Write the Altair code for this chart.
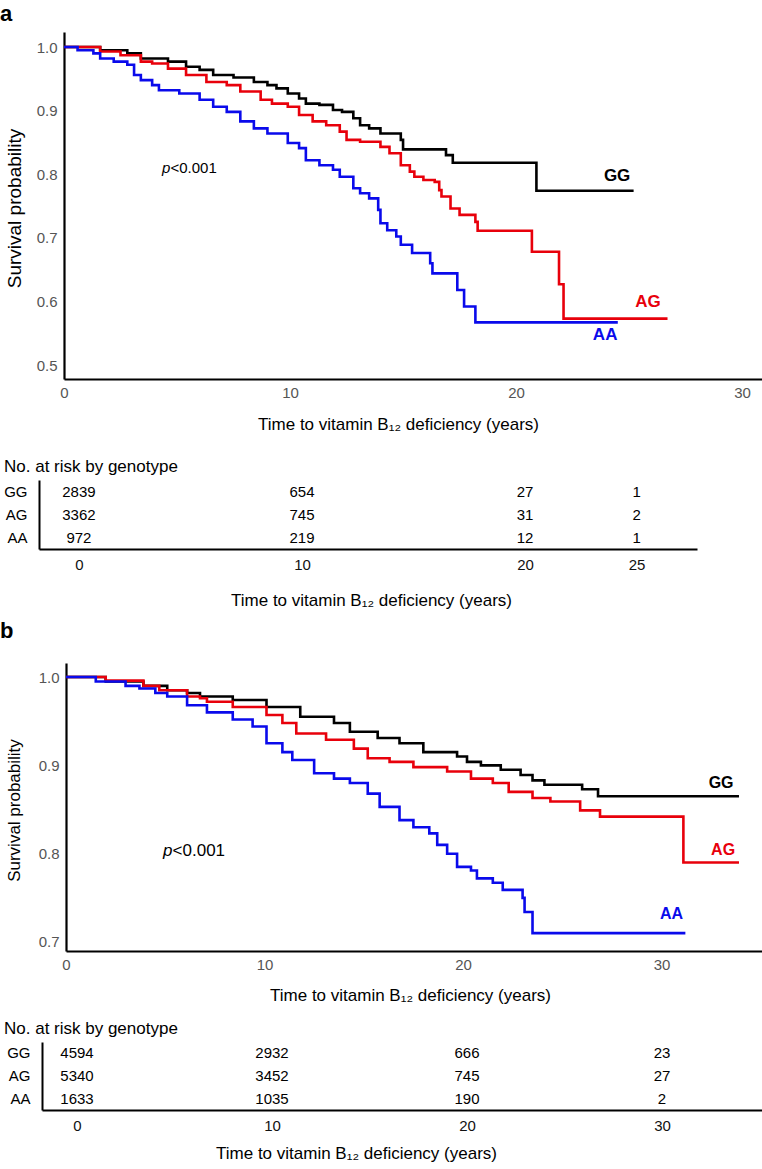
import altair as alt
import pandas as pd

FONT = "Liberation Sans"
GENOTYPES = ["GG", "AG", "AA"]
LINE_COLORS = ["#000000", "#e8000b", "#0a0aeb"]
X_TITLE = "Time to vitamin B₁₂ deficiency (years)"
PAGE_W = 762

# ---- Panel a: Kaplan-Meier estimates (years, survival probability) ----
a_gg_time = [0, 1.6, 2.8, 3.4, 4.6, 5.4, 6.0, 6.6, 7.5, 8.4, 9.0, 9.4, 9.9, 10.4, 10.7,
             11.3, 11.9, 12.3, 12.8, 13.1, 13.5, 14.0, 14.9, 15.0, 16.9, 17.2, 20.9, 25.2]
a_gg_surv = [1.000, 0.995, 0.990, 0.982, 0.977, 0.969, 0.964, 0.956, 0.952, 0.945, 0.940,
             0.935, 0.927, 0.919, 0.911, 0.909, 0.901, 0.898, 0.888, 0.877, 0.872, 0.864,
             0.854, 0.839, 0.830, 0.818, 0.774, 0.774]
a_ag_time = [0, 1.6, 2.5, 3.4, 3.9, 4.6, 5.4, 6.3, 7.2, 7.8, 8.7, 9.2, 9.9, 10.4, 11.0,
             11.6, 12.2, 12.5, 13.1, 14.0, 14.4, 14.9, 15.3, 15.5, 15.9, 16.4, 16.6, 16.7,
             17.1, 17.5, 18.2, 18.3, 20.7, 21.9, 22.1, 26.7]
a_ag_surv = [1.000, 0.993, 0.987, 0.977, 0.974, 0.966, 0.956, 0.945, 0.940, 0.930, 0.917,
             0.911, 0.906, 0.893, 0.883, 0.877, 0.867, 0.854, 0.851, 0.843, 0.833, 0.814,
             0.804, 0.796, 0.791, 0.788, 0.775, 0.765, 0.746, 0.736, 0.725, 0.711, 0.678,
             0.627, 0.573, 0.573]
a_aa_time = [0, 0.6, 1.3, 1.6, 2.2, 2.8, 3.1, 3.4, 3.9, 4.2, 5.1, 6.0, 6.6, 7.2, 7.8, 8.4,
             9.0, 9.9, 10.4, 10.7, 11.3, 11.9, 12.2, 12.8, 13.1, 13.5, 13.9, 14.0, 14.3,
             14.7, 14.9, 15.4, 16.2, 16.3, 17.4, 17.7, 18.2, 24.5]
a_aa_surv = [1.000, 0.995, 0.990, 0.982, 0.977, 0.972, 0.956, 0.948, 0.940, 0.932, 0.927,
             0.917, 0.906, 0.898, 0.883, 0.872, 0.864, 0.849, 0.841, 0.822, 0.814, 0.807,
             0.796, 0.778, 0.770, 0.762, 0.744, 0.723, 0.712, 0.702, 0.689, 0.676, 0.660,
             0.644, 0.618, 0.592, 0.567, 0.567]
a_label_time = [24.47, 25.84, 23.94]
a_label_surv = [0.797, 0.599, 0.547]
a_p_time, a_p_surv = 4.34, 0.810

# ---- Panel b ----
b_gg_time = [0, 2.0, 3.9, 5.1, 6.1, 6.75, 8.4, 10.1, 11.8, 13.5, 14.3, 15.7, 16.8, 18.0,
             19.7, 20.2, 20.9, 21.9, 22.9, 23.5, 24.1, 26.0, 26.8, 33.9]
b_gg_surv = [1.000, 0.995, 0.990, 0.985, 0.982, 0.978, 0.974, 0.966, 0.955, 0.948, 0.938,
             0.931, 0.925, 0.915, 0.910, 0.904, 0.900, 0.895, 0.889, 0.883, 0.878, 0.873,
             0.865, 0.865]
b_ag_time = [0, 2.0, 3.9, 4.7, 6.1, 6.75, 7.1, 8.4, 10.1, 10.9, 11.6, 13.1, 14.5, 15.2,
             16.3, 17.5, 19.2, 20.4, 21.5, 22.3, 23.5, 24.4, 25.9, 26.9, 31.1, 33.9]
b_ag_surv = [1.000, 0.996, 0.990, 0.985, 0.978, 0.976, 0.972, 0.966, 0.957, 0.948, 0.936,
             0.929, 0.919, 0.908, 0.904, 0.898, 0.893, 0.885, 0.880, 0.870, 0.863, 0.859,
             0.849, 0.842, 0.790, 0.790]
b_aa_time = [0, 1.5, 3.0, 3.7, 4.5, 5.1, 6.1, 7.1, 8.4, 9.4, 10.1, 10.9, 11.4, 12.5, 13.5,
             14.3, 15.2, 15.8, 16.8, 17.5, 18.3, 18.7, 19.2, 19.7, 20.4, 20.7, 21.5, 22.0,
             23.0, 23.1, 23.5, 31.2]
b_aa_surv = [1.000, 0.995, 0.990, 0.987, 0.982, 0.978, 0.968, 0.960, 0.952, 0.944, 0.925,
             0.915, 0.906, 0.891, 0.885, 0.880, 0.868, 0.853, 0.838, 0.830, 0.823, 0.810,
             0.800, 0.785, 0.781, 0.772, 0.767, 0.759, 0.750, 0.734, 0.710, 0.710]
b_label_time = [33.0, 33.1, 30.5]
b_label_surv = [0.880, 0.804, 0.732]
b_p_time, b_p_surv = 4.89, 0.803

# ---- Numbers at risk ----
a_risk_time = [0, 10, 20, 25]
a_risk_gg = [2839, 654, 27, 1]
a_risk_ag = [3362, 745, 31, 2]
a_risk_aa = [972, 219, 12, 1]
b_risk_time = [0, 10, 20, 30]
b_risk_gg = [4594, 2932, 666, 23]
b_risk_ag = [5340, 3452, 745, 27]
b_risk_aa = [1633, 1035, 190, 2]

color_scale = alt.Scale(domain=GENOTYPES, range=LINE_COLORS)


def curves_frame(series):
    rows = []
    for g, (ts, ss) in zip(GENOTYPES, series):
        for t, s in zip(ts, ss):
            rows.append({"genotype": g, "t": t, "S": s})
    return pd.DataFrame(rows)


def km_panel(curves, lab_t, lab_s, p_t, p_s, letter, letter_y, x_dom, x_rng, y_dom, y_rng,
             height, y_title_size, y_title_y, x_title_x, x_title_dy, p_size, lab_size):
    axis_y_pos = y_rng[0]
    x = alt.X("t:Q",
              scale=alt.Scale(domain=x_dom, range=x_rng, nice=False, zero=False),
              axis=alt.Axis(orient="bottom", offset=axis_y_pos - height,
                            values=[0, 10, 20, 30], format="d", ticks=False, grid=False,
                            domainColor="black", domainWidth=2.2, labelFlush=False,
                            labelColor="#555555", labelFontSize=15, labelPadding=6,
                            title=X_TITLE, titleFontSize=17, titleFontWeight="normal",
                            titleColor="black", titleX=x_title_x, titleY=x_title_dy,
                            titleAlign="center", titleBaseline="middle"))
    y = alt.Y("S:Q",
              scale=alt.Scale(domain=y_dom, range=y_rng, nice=False, zero=False),
              axis=alt.Axis(orient="left", offset=-x_rng[0], format=".1f",
                            values=[round(0.5 + 0.1 * i, 1) for i in range(6)],
                            ticks=False, grid=False, domainColor="black", domainWidth=2.2,
                            labelColor="#555555", labelFontSize=15, labelPadding=7,
                            title="Survival probability", titleFontSize=y_title_size,
                            titleFontWeight="normal", titleColor="black",
                            titleX=14 - x_rng[0], titleY=y_title_y, titleAngle=270,
                            titleAlign="center", titleBaseline="middle"))
    c = alt.Color("genotype:N", scale=color_scale, legend=None)

    lines = alt.Chart(curves).mark_line(interpolate="step-after", strokeWidth=2.6).encode(x, y, c)
    labels = alt.Chart(pd.DataFrame({"genotype": GENOTYPES, "t": lab_t, "S": lab_s})).mark_text(
        fontWeight="bold", fontSize=lab_size, align="center", baseline="middle").encode(
        x, y, c, text="genotype:N")
    pdf = pd.DataFrame({"t": [p_t], "S": [p_s]})
    p_letter = alt.Chart(pdf).mark_text(text="p", fontStyle="italic", fontSize=p_size,
                                        align="left", baseline="middle").encode(x, y)
    p_rest = alt.Chart(pdf).mark_text(text="<0.001", fontSize=p_size, align="left",
                                      baseline="middle", dx=p_size * 0.56).encode(x, y)
    tag = alt.Chart(pd.DataFrame({"tag": [letter]})).mark_text(
        fontSize=22, fontWeight="bold", align="left", baseline="middle").encode(
        x=alt.value(0), y=alt.value(letter_y), text="tag:N")
    return alt.layer(lines, labels, p_letter, p_rest, tag).properties(width=PAGE_W, height=height)


def risk_table(times, gg, ag, aa, x_dom, x_rng, ticks, row_rng, height, header_y,
               title_x, title_dy):
    rows = []
    for g, counts in zip(GENOTYPES, [gg, ag, aa]):
        for t, n in zip(times, counts):
            rows.append({"genotype": g, "t": t, "n": n})
    df = pd.DataFrame(rows)
    line_y = row_rng[1]
    x = alt.X("t:Q",
              scale=alt.Scale(domain=x_dom, range=x_rng, nice=False, zero=False),
              axis=alt.Axis(orient="bottom", offset=line_y - height, values=ticks,
                            format="d", ticks=False, grid=False, domainColor="black",
                            domainWidth=2, labelFlush=False, labelColor="#111111",
                            labelFontSize=15, labelPadding=8, title=X_TITLE,
                            titleFontSize=17, titleFontWeight="normal", titleColor="black",
                            titleX=title_x, titleY=title_dy, titleAlign="center",
                            titleBaseline="middle"))
    y = alt.Y("genotype:N",
              scale=alt.Scale(type="band", domain=GENOTYPES, range=row_rng,
                              paddingInner=0, paddingOuter=0),
              axis=alt.Axis(orient="left", offset=-x_rng[0], ticks=False, grid=False,
                            domainColor="black", domainWidth=2, labelColor="black",
                            labelFontSize=15, labelPadding=12, title=None))
    counts = alt.Chart(df).mark_text(fontSize=15, align="center", baseline="middle",
                                     color="black").encode(x, y, text=alt.Text("n:Q", format="d"))
    header = alt.Chart(pd.DataFrame({"h": ["No. at risk by genotype"]})).mark_text(
        fontSize=17, align="left", baseline="middle", color="black").encode(
        x=alt.value(4), y=alt.value(header_y), text="h:N")
    return alt.layer(counts, header).properties(width=PAGE_W, height=height)


panel_a = km_panel(
    curves_frame([(a_gg_time, a_gg_surv), (a_ag_time, a_ag_surv), (a_aa_time, a_aa_surv)]),
    a_label_time, a_label_surv, a_p_time, a_p_surv, "a", 14,
    x_dom=[0, 30.88], x_rng=[64, 762], y_dom=[0.478, 1.0236], y_rng=[379, 32],
    height=445, y_title_size=19, y_title_y=208, x_title_x=398, x_title_dy=45,
    p_size=15, lab_size=17)

table_a = risk_table(a_risk_time, a_risk_gg, a_risk_ag, a_risk_aa,
                     x_dom=[-1.79, 27.71], x_rng=[39, 697], ticks=a_risk_time,
                     row_rng=[35, 104], height=170, header_y=22, title_x=371, title_dy=51)

panel_b = km_panel(
    curves_frame([(b_gg_time, b_gg_surv), (b_ag_time, b_ag_surv), (b_aa_time, b_aa_surv)]),
    b_label_time, b_label_surv, b_p_time, b_p_surv, "b", 16,
    x_dom=[0, 35.06], x_rng=[66, 762], y_dom=[0.6898, 1.0159], y_rng=[336, 48],
    height=390, y_title_size=17, y_title_y=195, x_title_x=410, x_title_dy=44,
    p_size=17, lab_size=16)

table_b = risk_table(b_risk_time, b_risk_gg, b_risk_ag, b_risk_aa,
                     x_dom=[-1.795, 35.13], x_rng=[42, 762], ticks=b_risk_time,
                     row_rng=[37, 105], height=164, header_y=24, title_x=356, title_dy=43)

chart = alt.vconcat(panel_a, table_a, panel_b, table_b, spacing=0, bounds="flush").properties(
    padding=0, background="white"
).configure_view(stroke=None).configure_axis(
    labelFont=FONT, titleFont=FONT
).configure_text(font=FONT)

chart.save("out.html", embed_options={"renderer": "svg", "actions": False})
